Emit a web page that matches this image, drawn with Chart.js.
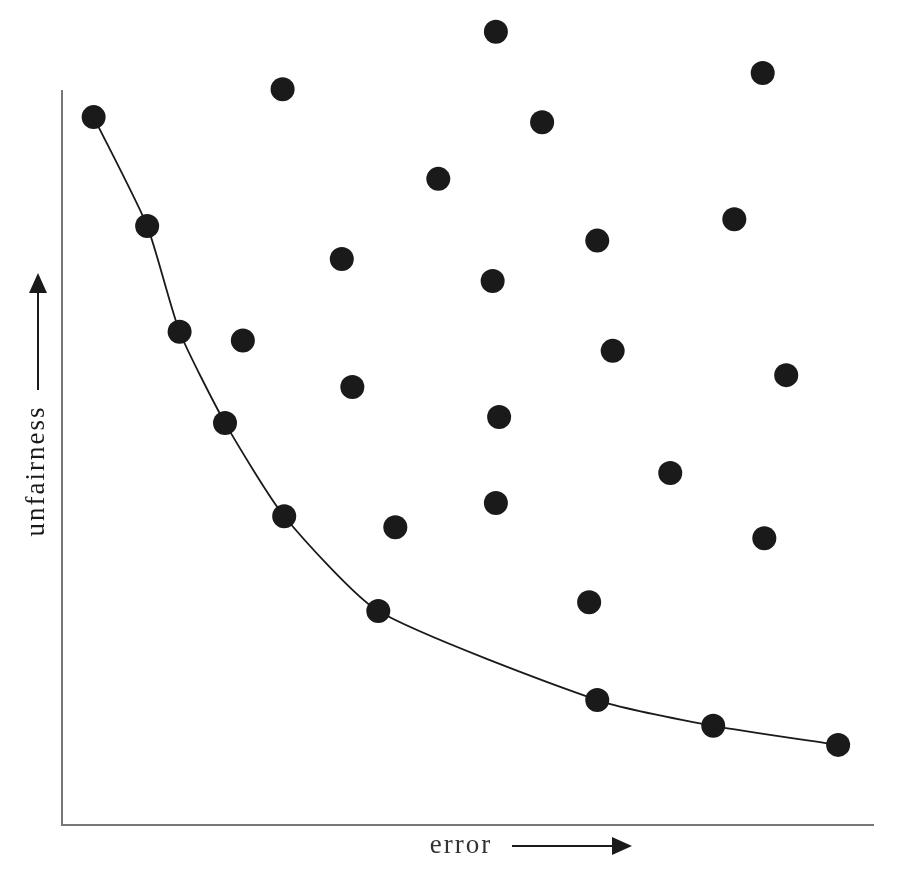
<!DOCTYPE html>
<html>
<head>
<meta charset="utf-8">
<script src="https://cdn.jsdelivr.net/npm/chart.js@4"></script>
<style>
  body { margin: 0; background: #fff; }
</style>
</head>
<body>
<canvas id="grafico" width="920" height="878"></canvas>
<script>
// frente de Pareto (puntos unidos por la curva)
const frenteX = [3.9, 10.5, 14.5, 20.1, 27.4, 39.0, 66.0, 80.3, 95.7]
const frenteY = [96.3, 81.5, 67.1, 54.7, 42.0, 29.1, 17.0, 13.5, 10.9]

// resto de modelos
const otrosX = [53.5, 86.4, 27.2, 59.2, 46.4, 82.9, 66.0, 34.5, 53.1, 22.3, 67.9, 89.3, 35.8, 53.9, 75.0, 53.5, 41.1, 86.6, 65.0]
const otrosY = [107.9, 102.3, 100.1, 95.6, 87.9, 82.4, 79.5, 77.0, 74.0, 65.9, 64.5, 61.2, 59.6, 55.5, 47.9, 43.8, 40.5, 39.0, 30.3]

const etiquetaX = 'error'
const etiquetaY = 'unfairness'

// el eje vertical solo se dibuja hasta este valor
const topeEjeY = 100

const aPuntos = (xs, ys) => xs.map((x, i) => ({ x: x, y: ys[i] }))

const flecha = (ctx, x1, y1, x2, y2) => {
    const ang = Math.atan2(y2 - y1, x2 - x1)
    const largo = 20, ancho = 9
    ctx.beginPath()
    ctx.moveTo(x1, y1)
    ctx.lineTo(x2 - largo * Math.cos(ang), y2 - largo * Math.sin(ang))
    ctx.lineWidth = 2
    ctx.strokeStyle = '#1a1a1a'
    ctx.stroke()
    ctx.beginPath()
    ctx.moveTo(x2, y2)
    ctx.lineTo(x2 - largo * Math.cos(ang) - ancho * Math.sin(ang), y2 - largo * Math.sin(ang) + ancho * Math.cos(ang))
    ctx.lineTo(x2 - largo * Math.cos(ang) + ancho * Math.sin(ang), y2 - largo * Math.sin(ang) - ancho * Math.cos(ang))
    ctx.closePath()
    ctx.fillStyle = '#1a1a1a'
    ctx.fill()
}

const ejeY = {
    id: 'ejeY',
    beforeDatasetsDraw(chart) {
        const ctx = chart.ctx
        const y = chart.scales.y
        const x0 = chart.scales.x.left
        ctx.save()
        ctx.beginPath()
        ctx.moveTo(x0, y.getPixelForValue(0))
        ctx.lineTo(x0, y.getPixelForValue(topeEjeY))
        ctx.lineWidth = 2
        ctx.strokeStyle = '#777'
        ctx.stroke()
        ctx.restore()
    }
}

const etiquetas = {
    id: 'etiquetas',
    afterDraw(chart) {
        const ctx = chart.ctx
        ctx.save()
        ctx.font = '27px "Liberation Serif", serif'
        ctx.letterSpacing = '2px'
        ctx.fillStyle = '#333'
        ctx.textBaseline = 'middle'
        ctx.textAlign = 'center'
        ctx.fillText(etiquetaX, 461, 846)
        flecha(ctx, 512, 846, 632, 846)

        ctx.save()
        ctx.translate(37, 471)
        ctx.rotate(-Math.PI / 2)
        ctx.fillText(etiquetaY, 0, 0)
        ctx.restore()
        flecha(ctx, 38, 390, 38, 273)
        ctx.restore()
    }
}

new Chart(document.getElementById('grafico'), {
    type: 'scatter',
    data: {
        datasets: [
            {
                label: 'frente',
                data: aPuntos(frenteX, frenteY),
                showLine: true,
                tension: 0.2,
                borderColor: '#1a1a1a',
                borderWidth: 1.8,
                backgroundColor: '#1a1a1a',
                pointRadius: 12,
                pointBorderWidth: 0,
                clip: false
            }, {
                label: 'otros',
                data: aPuntos(otrosX, otrosY),
                backgroundColor: '#1a1a1a',
                borderColor: '#1a1a1a',
                pointRadius: 12,
                pointBorderWidth: 0,
                clip: false
            }
        ]
    },
    options: {
        responsive: false,
        animation: false,
        layout: {
            padding: { left: 62, right: 47, top: 2, bottom: 53 }
        },
        plugins: {
            legend: { display: false },
            tooltip: { enabled: false }
        },
        scales: {
            x: {
                min: 0, max: 100,
                ticks: { display: false },
                grid: { display: false, drawTicks: false },
                border: { display: true, color: '#777', width: 2 }
            },
            y: {
                min: 0, max: 110.6,
                ticks: { display: false },
                grid: { display: false, drawTicks: false },
                border: { display: false }
            }
        }
    },
    plugins: [ejeY, etiquetas]
})
</script>
</body>
</html>
